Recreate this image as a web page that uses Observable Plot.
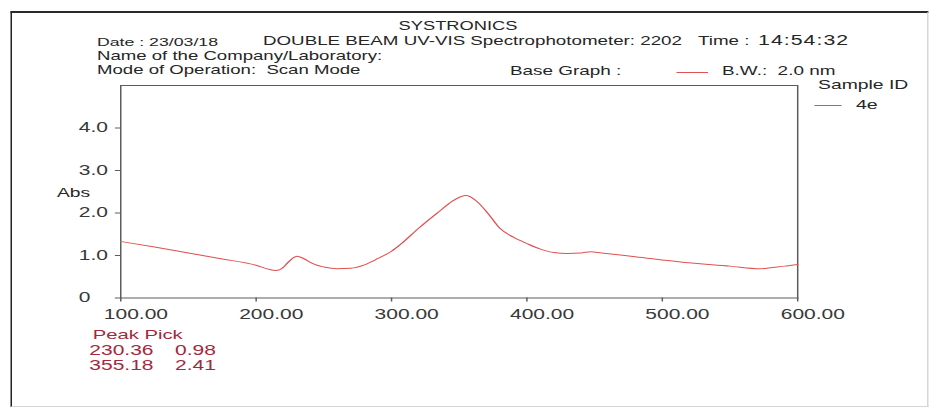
<!DOCTYPE html>
<html>
<head>
<meta charset="utf-8">
<script src="https://cdn.jsdelivr.net/npm/d3@7"></script>
<script src="https://cdn.jsdelivr.net/npm/@observablehq/plot@0.6"></script>
<style>
  html, body { margin: 0; padding: 0; background: #fff; }
  /* the printout is laid out narrow and widened horizontally, like the instrument report */
  #sheet { position: relative; width: 620px; height: 410px; transform: scaleX(1.5); transform-origin: 0 0;
           font-family: "Liberation Sans", Arial, sans-serif; color: #262626; }
  #sheet svg { position: absolute; left: 0; top: 0; overflow: visible; }
  #border { position: absolute; left: 6.7px; top: 11px; width: 612px; height: 396px; box-sizing: border-box;
            border-left: 1.4px solid #222; border-top: 2px solid #2a2a2a;
            border-right: 1px solid #d6d6d6; border-bottom: 1px solid #d6d6d6; }
  .t { position: absolute; white-space: pre; line-height: 0.8; }
  .swatch { position: absolute; height: 0; border-top: 1px solid #e05252; }
</style>
</head>
<body>
<div id="sheet"><div id="border"></div></div>
<script>
// Scan of sample 4e: wavelength (nm) and absorbance
const wavelength = [100, 125, 150, 175, 200, 210, 214, 217, 220, 223, 226, 230.36, 235, 240, 245, 250, 260, 270, 280, 290, 300, 307, 320, 335, 345, 355.18, 362, 372, 380, 390, 400, 410, 420, 430, 440, 447, 455, 480, 515, 550, 572, 590, 600];
const absorbance = [1.33, 1.20, 1.06, 0.92, 0.77, 0.67, 0.65, 0.66, 0.72, 0.82, 0.91, 0.98, 0.93, 0.84, 0.77, 0.73, 0.69, 0.70, 0.78, 0.93, 1.10, 1.27, 1.64, 2.03, 2.28, 2.41, 2.30, 1.96, 1.64, 1.43, 1.28, 1.15, 1.07, 1.05, 1.06, 1.09, 1.06, 0.97, 0.84, 0.75, 0.69, 0.75, 0.79];

// Axis ticks
const xTicks = [100, 200, 300, 400, 500, 600];
const yTicks = [0, 1, 2, 3, 4];
const yTickLabels = ["0", "1.0", "2.0", "3.0", "4.0"];

// Peak pick table
const peakNm = [230.36, 355.18];
const peakAbs = [0.98, 2.41];

const S = 1.5;           // horizontal widening of the sheet
const lineColor = "#e05252";
const axisColor = "#5c5c5c";
const tickText = "#383838";

const scan = wavelength.map((w, i) => ({w, a: absorbance[i]}));

const chart = Plot.plot({
  width: 620,
  height: 410,
  marginLeft: 80,
  marginRight: 88.7,
  marginTop: 85,
  marginBottom: 112.5,
  x: {domain: [100, 600], axis: null},
  y: {domain: [0, 5], axis: null},
  style: {fontFamily: "'Liberation Sans', Arial, sans-serif", background: "transparent"},
  marks: [
    Plot.frame({stroke: axisColor, strokeWidth: 1}),
    // tick marks below the wavelength axis
    Plot.axisX({ticks: xTicks, tickSize: 4, tickFormat: () => "", label: null, stroke: axisColor}),
    // wavelength labels start a little left of their tick
    Plot.text(xTicks, {
      x: d => d, text: d => d.toFixed(2), frameAnchor: "bottom",
      textAnchor: "start", lineAnchor: "top", dx: -11.3, dy: 11.5,
      fontSize: 14, fill: tickText
    }),
    Plot.axisY({
      ticks: yTicks, tickSize: 3.4, tickPadding: 24.6,
      tickFormat: d => yTickLabels[yTicks.indexOf(d)],
      textAnchor: "start", label: null,
      fontSize: 14, fill: tickText, stroke: axisColor
    }),
    Plot.line(scan, {x: "w", y: "a", stroke: lineColor, strokeWidth: 1, curve: "monotone-x"})
  ]
});

const sheet = document.getElementById("sheet");
sheet.appendChild(chart);

// Report header and annotations: x is the left edge (or centre) in final pixels, base is the baseline
function put(text, x, base, size, opts = {}) {
  const el = document.createElement("div");
  el.className = "t";
  el.textContent = text;
  el.style.fontSize = size + "px";
  el.style.top = (base - 0.7465 * size) + "px";
  el.style.left = (x / S) + "px";
  if (opts.center) el.style.transform = "translateX(-50%)";
  if (opts.color) el.style.color = opts.color;
  if (opts.spacing) el.style.letterSpacing = opts.spacing + "px";
  sheet.appendChild(el);
  return el;
}
function swatch(x1, x2, y) {
  const el = document.createElement("div");
  el.className = "swatch";
  el.style.left = (x1 / S) + "px";
  el.style.width = ((x2 - x1) / S) + "px";
  el.style.top = y + "px";
  sheet.appendChild(el);
}

put("SYSTRONICS", 458, 31, 12.2, {center: true});
put("Date : 23/03/18", 97, 47, 11.8);
put("DOUBLE BEAM UV-VIS Spectrophotometer: 2202", 263, 45.5, 12.5);
put("Time : ", 698, 45.5, 12.5);
put("14:54:32", 758, 45.5, 14.2, {spacing: 0.7});
put("Name of the Company/Laboratory:", 97, 61, 12.4);
put("Mode of Operation:  Scan Mode", 97, 75.5, 12.4);
put("Base Graph :", 510, 75.5, 12.6);
swatch(677, 708, 72);
put("B.W.:  2.0 nm", 722, 75.5, 12.6);
put("Sample ID", 818, 90, 12.9);
swatch(814, 842, 105);
put("4e", 856, 110, 13);
put("Abs", 57, 198, 12.8);

const peakColor = "#a3283e";
put("Peak Pick", 92.7, 340, 13.5, {color: peakColor});
peakNm.forEach((nm, i) => {
  put(nm.toFixed(2), 89.3, 355 + 15 * i, 14, {color: peakColor});
  put(peakAbs[i].toFixed(2), 175, 355 + 15 * i, 14, {color: peakColor});
});
</script>
</body>
</html>
